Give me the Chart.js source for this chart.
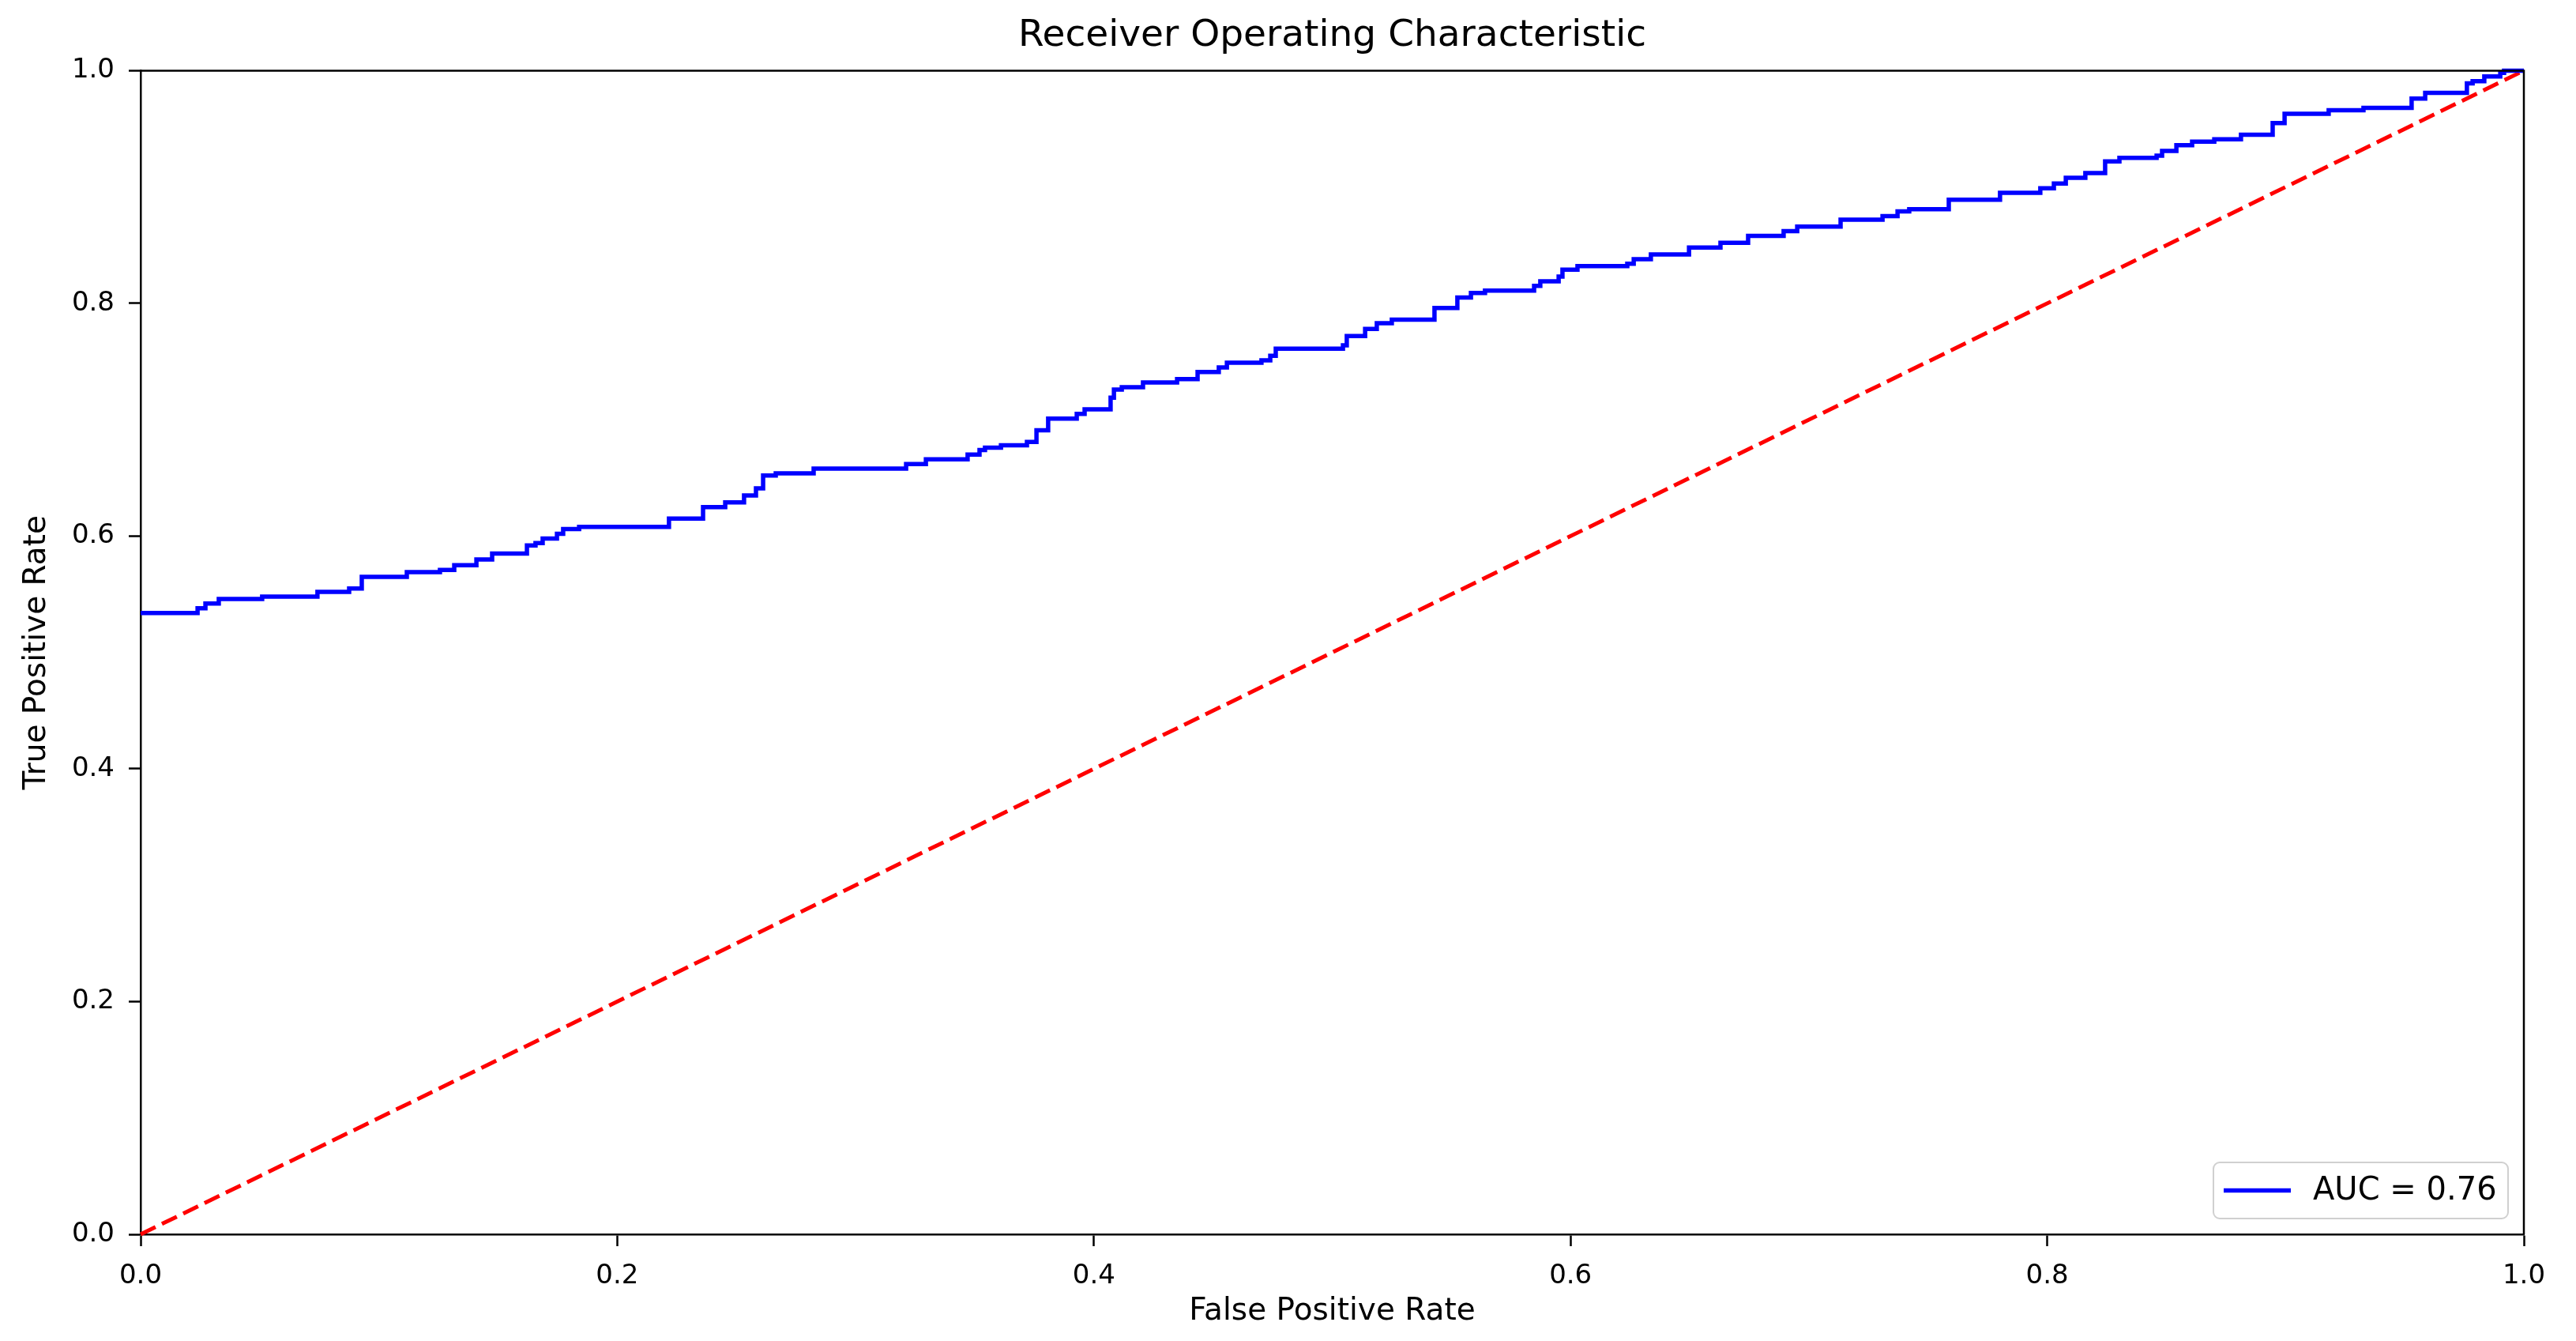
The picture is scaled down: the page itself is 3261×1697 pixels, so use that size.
<!DOCTYPE html>
<html>
<head>
<meta charset="utf-8">
<title>Receiver Operating Characteristic</title>
<script src="https://cdn.jsdelivr.net/npm/chart.js@4.4.1/dist/chart.umd.min.js"></script>
<style>
  html, body { margin: 0; padding: 0; background: #fff; }
  canvas { display: block; }
</style>
</head>
<body>
<canvas id="roc" width="3261" height="1697"></canvas>
<script>
// ROC curve (step starts: fpr -> new tpr)
const fpr = [0, 0.0239, 0.0272, 0.0328, 0.0510, 0.0742, 0.0875, 0.0928, 0.1117, 0.1256,
  0.1316, 0.1409, 0.1475, 0.1621, 0.1657, 0.1687, 0.1747, 0.1773, 0.1840, 0.2217,
  0.2360, 0.2453, 0.2532, 0.2582, 0.2612, 0.2665, 0.2824, 0.3212, 0.3295, 0.3470,
  0.3520, 0.3543, 0.3610, 0.3719, 0.3759, 0.3808, 0.3928, 0.3961, 0.4070, 0.4084,
  0.4117, 0.4206, 0.4349, 0.4435, 0.4524, 0.4558, 0.4703, 0.4740, 0.4763, 0.5045,
  0.5061, 0.5138, 0.5187, 0.5250, 0.5429, 0.5525, 0.5582, 0.5641, 0.5847, 0.5873,
  0.5950, 0.5966, 0.6029, 0.6238, 0.6265, 0.6337, 0.6497, 0.6629, 0.6745, 0.6894,
  0.6951, 0.7133, 0.7309, 0.7372, 0.7421, 0.7587, 0.7802, 0.7971, 0.8028, 0.8078,
  0.8160, 0.8243, 0.8303, 0.8459, 0.8482, 0.8542, 0.8608, 0.8701, 0.8813, 0.8946,
  0.8996, 0.9181, 0.9327, 0.9529, 0.9586, 0.9761, 0.9785, 0.9834, 0.9901, 0.9917, 1.0];
const tpr = [0.534, 0.538, 0.542, 0.546, 0.548, 0.552, 0.555, 0.565, 0.569, 0.571,
  0.575, 0.580, 0.585, 0.592, 0.594, 0.598, 0.602, 0.606, 0.608, 0.615,
  0.625, 0.629, 0.635, 0.641, 0.652, 0.654, 0.658, 0.662, 0.666, 0.670,
  0.674, 0.676, 0.678, 0.681, 0.691, 0.701, 0.705, 0.709, 0.719, 0.726,
  0.728, 0.732, 0.735, 0.741, 0.745, 0.749, 0.751, 0.755, 0.761, 0.764,
  0.772, 0.778, 0.783, 0.786, 0.796, 0.805, 0.809, 0.811, 0.815, 0.819,
  0.823, 0.829, 0.832, 0.834, 0.838, 0.842, 0.848, 0.852, 0.858, 0.862,
  0.866, 0.872, 0.875, 0.879, 0.881, 0.889, 0.895, 0.899, 0.903, 0.908,
  0.912, 0.922, 0.925, 0.927, 0.931, 0.936, 0.939, 0.941, 0.945, 0.955,
  0.963, 0.966, 0.968, 0.976, 0.981, 0.989, 0.991, 0.995, 0.998, 1.0, 1.0];
const chanceX = [0, 1];
const chanceY = [0, 1];
const aucLabel = 'AUC = 0.76';
const tickValues = [0, 0.2, 0.4, 0.6, 0.8, 1.0];

const FONT = 'DejaVu Sans';
Chart.defaults.font.family = FONT;
Chart.defaults.color = '#000';

// top/right spines like matplotlib
const frame = {
  id: 'frame',
  afterDraw(chart) {
    const { ctx, chartArea: a } = chart;
    ctx.save();
    ctx.strokeStyle = '#000';
    ctx.lineWidth = 2.5;
    ctx.beginPath();
    ctx.moveTo(a.left, a.top); ctx.lineTo(a.right, a.top); ctx.lineTo(a.right, a.bottom);
    ctx.stroke();
    ctx.restore();
  },
};

// legend box in the lower-right corner of the axes
const cornerLegend = {
  id: 'cornerLegend',
  afterDraw(chart) {
    const { ctx, chartArea: a } = chart;
    const ds = chart.data.datasets[0];
    const w = 373, h = 71;
    const x = a.right - 20 - w, y = a.bottom - 20 - h;
    ctx.save();
    ctx.beginPath();
    ctx.roundRect(x, y, w, h, 8);
    ctx.fillStyle = 'rgba(255,255,255,0.8)';
    ctx.fill();
    ctx.strokeStyle = '#d0d0d0';
    ctx.lineWidth = 2;
    ctx.stroke();
    ctx.strokeStyle = ds.borderColor;
    ctx.lineWidth = ds.borderWidth;
    ctx.beginPath();
    ctx.moveTo(x + 13, y + h / 2);
    ctx.lineTo(x + 98, y + h / 2);
    ctx.stroke();
    ctx.fillStyle = '#000';
    ctx.font = `40px "${FONT}"`;
    ctx.textBaseline = 'middle';
    ctx.fillText(ds.label, x + 126, y + h / 2 + 1);
    ctx.restore();
  },
};

const axis = (title, pad, fit) => ({
  type: 'linear',
  min: 0,
  max: 1,
  afterBuildTicks: (s) => { s.ticks = tickValues.map((v) => ({ value: v })); },
  afterFit: fit,
  ticks: { font: { size: 34 }, color: '#000', padding: 18, callback: (v) => Number(v).toFixed(1) },
  grid: { display: true, drawOnChartArea: false, drawTicks: true, tickLength: 15, tickWidth: 2.5, tickColor: '#000' },
  border: { display: true, color: '#000', width: 2.5 },
  title: { display: true, text: title, font: { size: 39, lineHeight: 1.2 }, color: '#000', padding: pad },
});

new Chart(document.getElementById('roc'), {
  type: 'line',
  data: {
    datasets: [
      {
        label: aucLabel,
        data: fpr.map((x, i) => ({ x, y: tpr[i] })),
        borderColor: '#0000ff',
        borderWidth: 5.5,
        pointRadius: 0,
        stepped: 'before',
        fill: false,
        clip: 6,
      },
      {
        label: 'chance',
        data: chanceX.map((x, i) => ({ x, y: chanceY[i] })),
        borderColor: '#ff0000',
        borderWidth: 5,
        borderDash: [21, 9],
        pointRadius: 0,
        fill: false,
        clip: 6,
      },
    ],
  },
  options: {
    responsive: false,
    animation: false,
    devicePixelRatio: 1,
    layout: { padding: { left: 0, right: 66, top: 0, bottom: 0 } },
    plugins: {
      legend: { display: false },
      tooltip: { enabled: false },
      title: {
        display: true,
        fullSize: false, // centre over the axes, not the whole canvas
        text: 'Receiver Operating Characteristic',
        font: { size: 47, weight: 'normal', lineHeight: 1.2 },
        color: '#000',
        padding: { top: 18, bottom: 15 },
      },
    },
    scales: {
      x: axis('False Positive Rate', { top: 0, bottom: 14 }, (s) => { s.height = 135; }),
      y: axis('True Positive Rate', { top: 23, bottom: 0 }, (s) => { s.width = 178; }),
    },
  },
  plugins: [frame, cornerLegend],
});
</script>
</body>
</html>
